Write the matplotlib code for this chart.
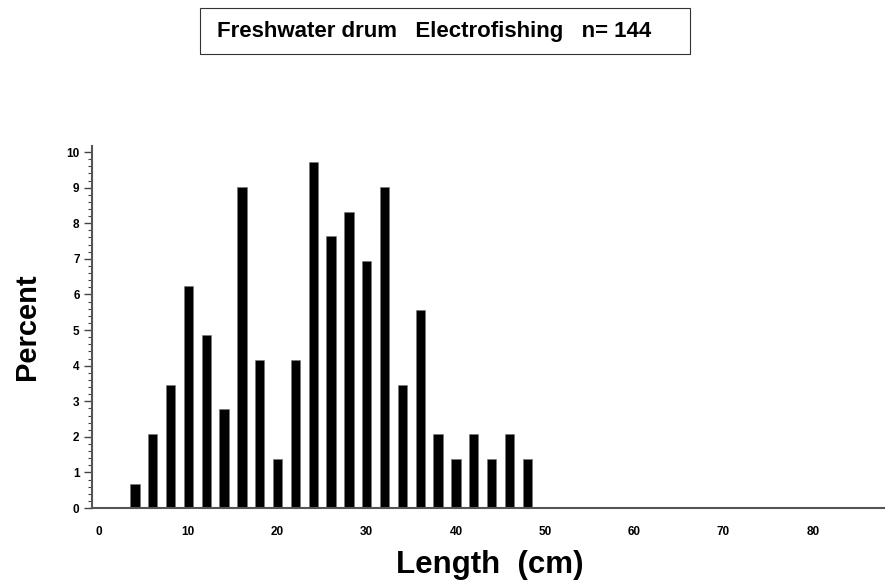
import matplotlib
matplotlib.use("Agg")
import matplotlib.pyplot as plt
from matplotlib.patches import Rectangle
from matplotlib.ticker import MultipleLocator

# length classes (cm) and percent of fish in each
lengths = [4, 6, 8, 10, 12, 14, 16, 18, 20, 22, 24, 26, 28, 30, 32, 34, 36, 38, 40, 42, 44, 46, 48]
percent = [0.69, 2.08, 3.47, 6.25, 4.86, 2.78, 9.03, 4.17, 1.39, 4.17, 9.72, 7.64, 8.33,
           6.94, 9.03, 3.47, 5.56, 2.08, 1.39, 2.08, 1.39, 2.08, 1.39]
x_ticks = [0, 10, 20, 30, 40, 50, 60, 70, 80]
y_ticks = [0, 1, 2, 3, 4, 5, 6, 7, 8, 9, 10]
title = "Freshwater drum   Electrofishing   n= 144"

plt.rcParams["font.family"] = ["Liberation Sans", "DejaVu Sans"]

fig = plt.figure(figsize=(8.85, 5.84), dpi=100)
fig.patch.set_facecolor("#ffffff")
ax = fig.add_axes([0.104, 0.130, 0.895, 0.62])

ax.bar(lengths, percent, width=1.05, color="black", edgecolor="#777777", linewidth=0.4)

ax.set_xlim(-0.8, 88)
ax.set_ylim(0, 10.17)
ax.set_xticks(x_ticks)
ax.set_yticks(y_ticks)
ax.yaxis.set_minor_locator(MultipleLocator(0.2))
ax.tick_params(axis="x", length=0, pad=13, labelsize=8.5)
ax.tick_params(axis="y", which="major", length=6, width=1, color="#444444", labelsize=8.5, pad=3)
ax.tick_params(axis="y", which="minor", length=3, width=0.8, color="#444444")
for label in ax.get_xticklabels() + ax.get_yticklabels():
    label.set_fontweight("bold")

ax.spines[["top", "right"]].set_visible(False)
for side in ["left", "bottom"]:
    ax.spines[side].set_color("#555555")
    ax.spines[side].set_linewidth(1.5)

fig.text(0.031, 0.44, "Percent", rotation=90, ha="center", va="center",
         fontsize=21, fontweight="bold")
fig.text(0.553, 0.032, "Length  (cm)", ha="center", va="center",
         fontsize=22.5, fontweight="bold")

# title box, wider on the right than the text
fig.patches.append(Rectangle((200 / 885, 1 - 54 / 584), 490 / 885, 46 / 584,
                             transform=fig.transFigure, facecolor="white",
                             edgecolor="#333333", linewidth=0.8))
fig.text(434 / 885, 1 - 31 / 584, title, ha="center", va="center",
         fontsize=16, fontweight="bold")

fig.savefig("out.png", dpi=100, facecolor=fig.get_facecolor())
